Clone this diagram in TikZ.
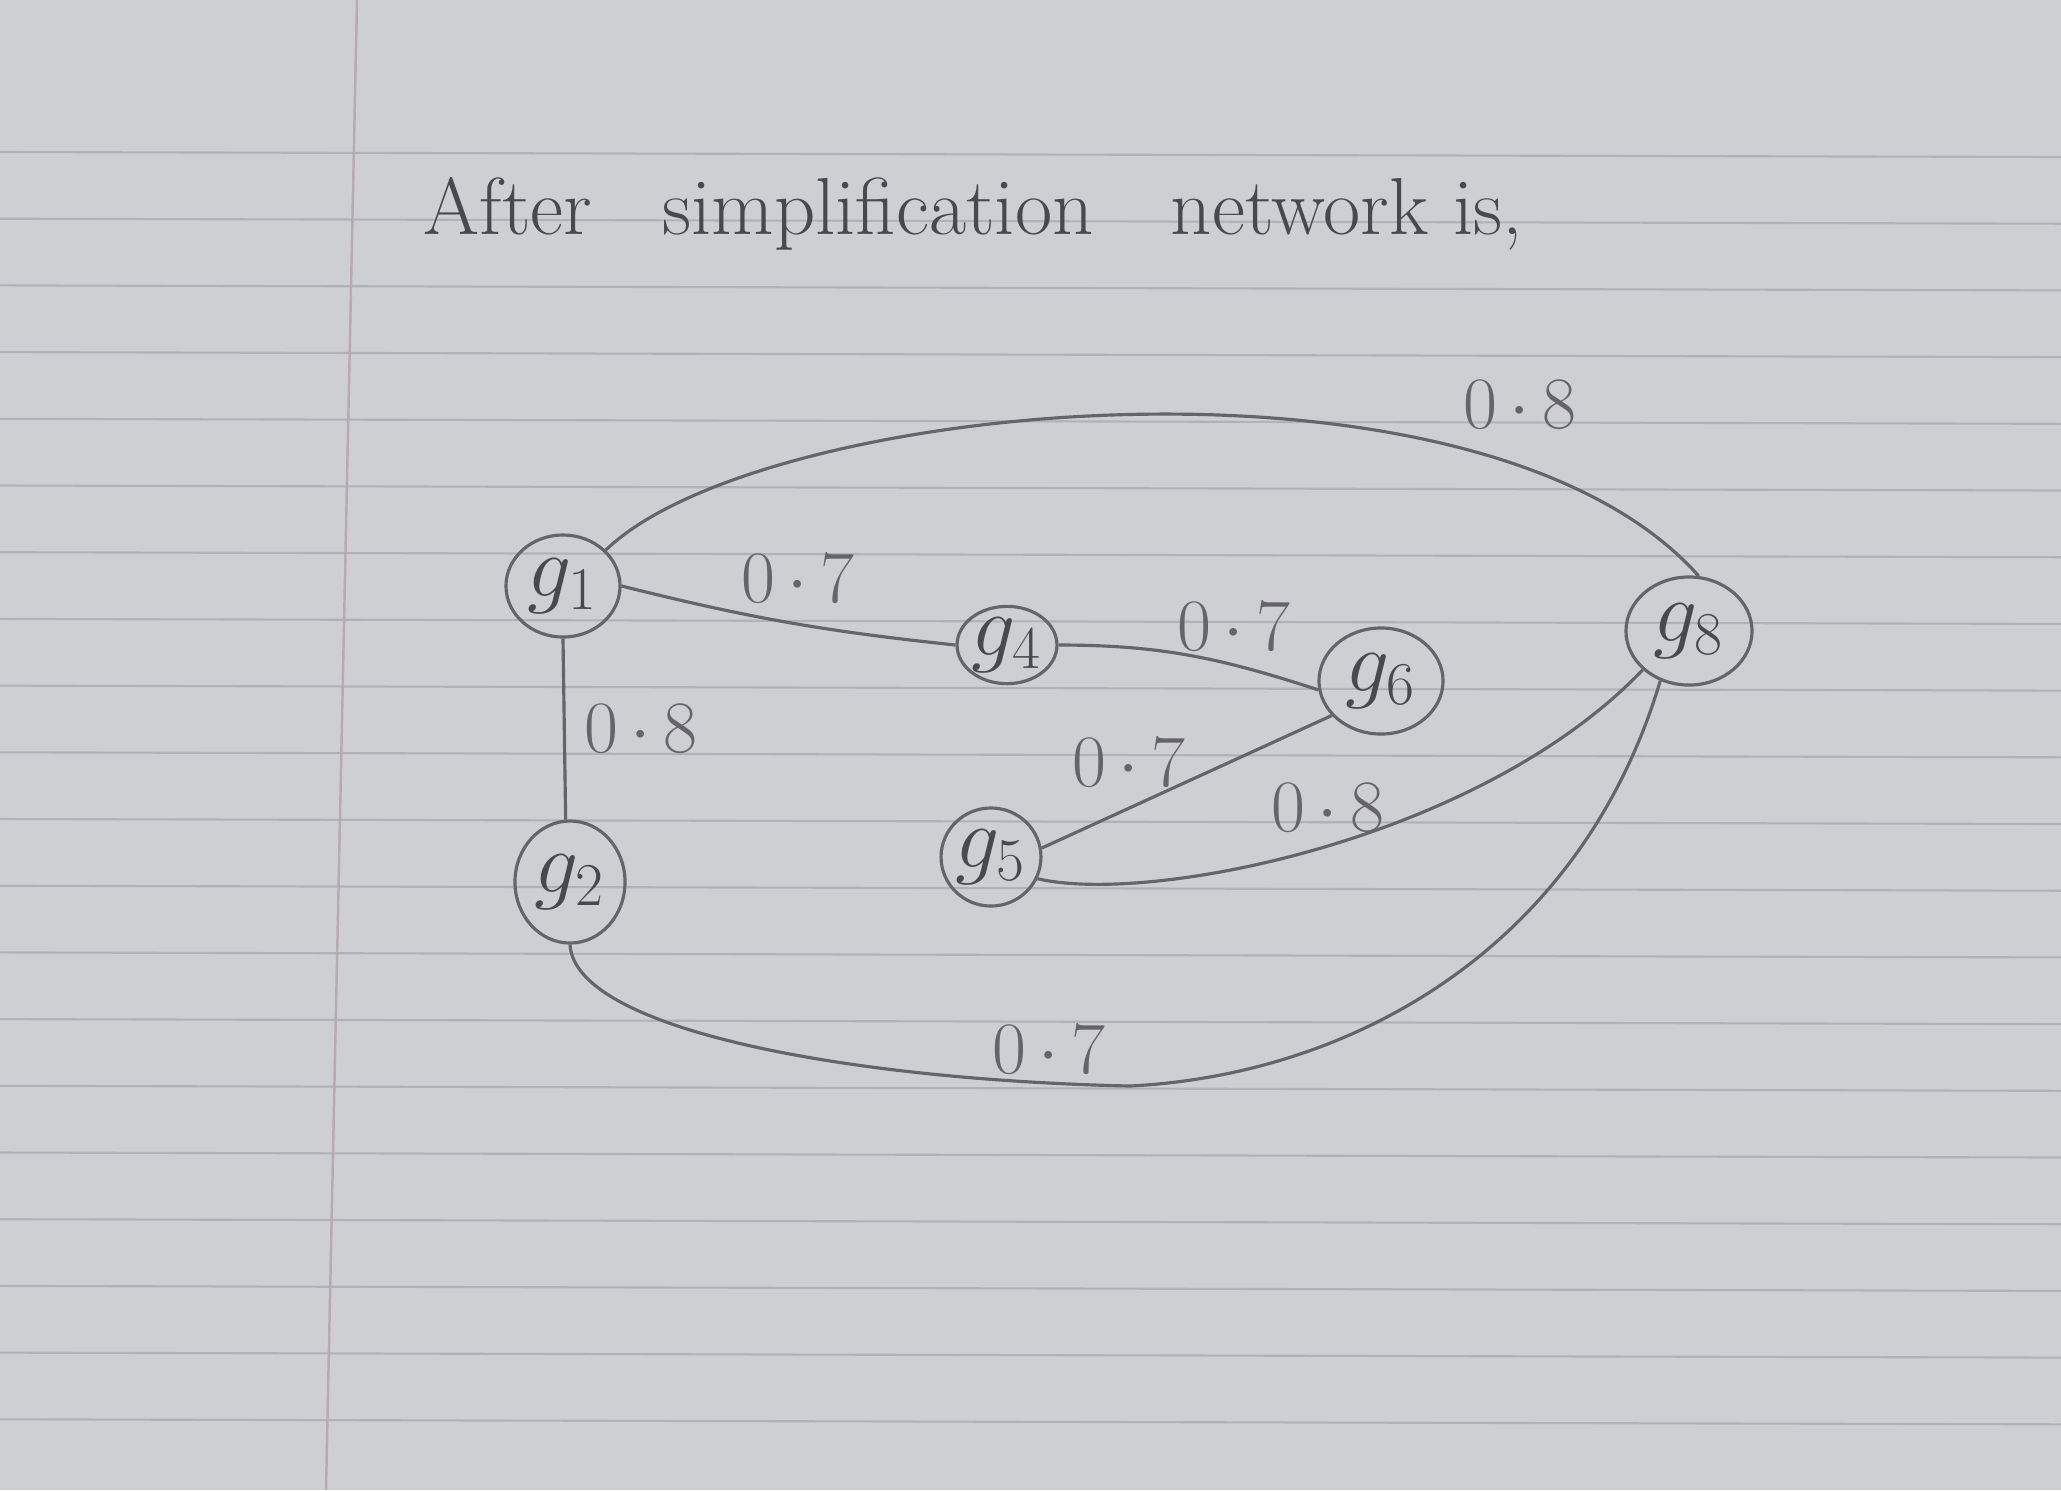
\documentclass[tikz,border=0pt]{standalone}
\usetikzlibrary{shapes.geometric}
\definecolor{paper}{RGB}{206,207,211}
\definecolor{ruleline}{RGB}{176,178,186}
\definecolor{marginline}{RGB}{186,170,176}
\definecolor{pencil}{RGB}{100,100,106}
\definecolor{lead}{RGB}{72,72,78}
\begin{document}
\begin{tikzpicture}[x=0.01cm,y=-0.01cm,
  gnode/.style={ellipse, draw=pencil, line width=0.9pt, inner sep=0pt, text=lead,
                font=\fontsize{24}{28}\selectfont},
  wlabel/.style={text=pencil, font=\fontsize{21}{24}\selectfont, inner sep=0pt},
  edge/.style={draw=pencil, line width=0.9pt}]
\fill[paper] (0,0) rectangle (2061,1490);
\path[use as bounding box] (0,0) rectangle (2061,1490);
\foreach \k in {0,...,19} {
  \draw[ruleline, line width=0.6pt] (0,{152+66.7*\k}) -- (2061,{157+66.7*\k});
}
\draw[marginline, line width=0.7pt] (357,0) -- (326,1490);

\node[anchor=base west, text=lead, font=\fontsize{23}{27}\selectfont, inner sep=0pt]
  (title) at (423,234) {After\hspace{20pt}simplification\hspace{22pt}network\hspace{7pt}is,};

\node[gnode, minimum width=1.14cm, minimum height=1.02cm] (g1) at (563,586) {$g_1$};
\node[gnode, minimum width=1.10cm, minimum height=1.22cm] (g2) at (570,882) {$g_2$};
\node[gnode, minimum width=0.90cm, minimum height=0.76cm] (g4) at (1007,645) {$g_4$};
\node[gnode, minimum width=0.94cm, minimum height=0.98cm] (g5) at (991,857) {$g_5$};
\node[gnode, minimum width=1.24cm, minimum height=1.06cm] (g6) at (1381,681) {$g_6$};
\node[gnode, minimum width=1.26cm, minimum height=1.08cm] (g8) at (1689,631) {$g_8$};

\draw[edge] (g1.40) .. controls (760,400) and (1480,330) .. (g8.80);
\draw[edge] (g1.east) to[bend right=4] (g4.west);
\draw[edge] (g1.south) -- (g2.94);
\draw[edge] (g4.east) to[out=0,in=162] (g6.188);
\draw[edge] (g6.215) -- (g5.10);
\draw[edge] (g5.-25) .. controls (1150,905) and (1480,840) .. (g8.220);
\draw[edge] (g2.south) .. controls (575,1030) and (850,1080) .. (1130,1086)
            .. controls (1350,1075) and (1580,950) .. (g8.240);

\node[wlabel] (l18) at (1520,405) {0\,$\cdot$\,8};
\node[wlabel] (l14) at (798,578) {0\,$\cdot$\,7};
\node[wlabel] (l12) at (641,729) {0\,$\cdot$\,8};
\node[wlabel] (l46) at (1234,626) {0\,$\cdot$\,7};
\node[wlabel] (l56) at (1129,762) {0\,$\cdot$\,7};
\node[wlabel] (l58) at (1328,808) {0\,$\cdot$\,8};
\node[wlabel] (l28) at (1049,1049) {0\,$\cdot$\,7};
\end{tikzpicture}
\end{document}
